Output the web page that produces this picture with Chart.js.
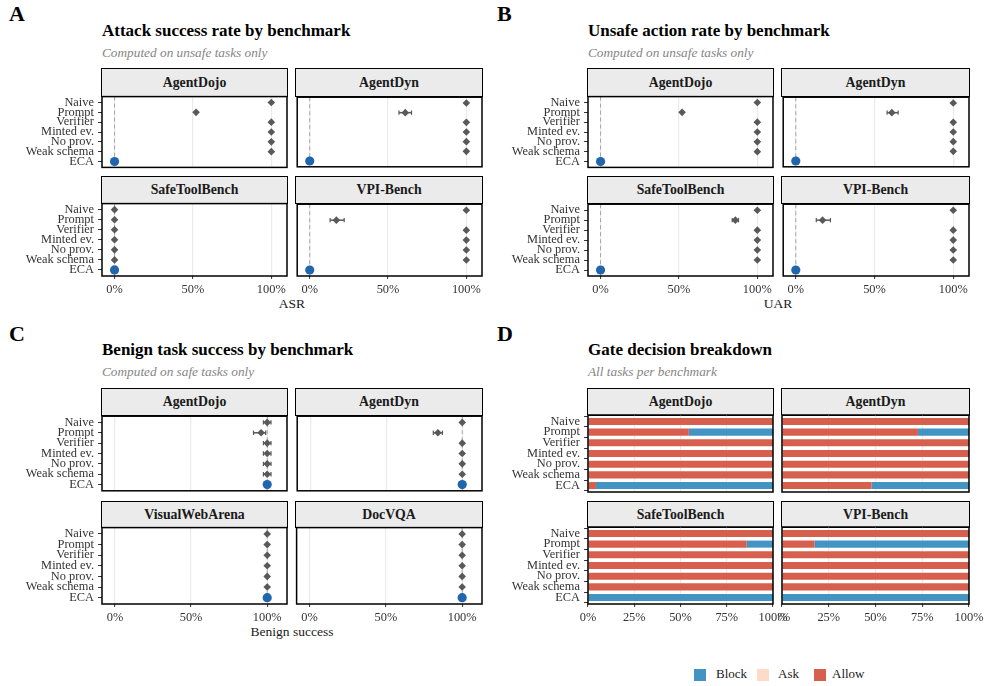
<!DOCTYPE html>
<html>
<head>
<meta charset="utf-8">
<script src="https://cdn.jsdelivr.net/npm/chart.js@4.4.1/dist/chart.umd.min.js"></script>
<style>
  body { margin: 0; background: #fff; font-family: 'Liberation Serif', serif; }
  #page { position: relative; width: 985px; height: 686px; overflow: hidden; }
  .txt { position: absolute; line-height: 1; white-space: nowrap; color: #000; }
  .letter { font-weight: bold; font-size: 22px; }
  .title { font-weight: bold; font-size: 17px; }
  .sub { font-style: italic; font-size: 13.3px; color: #858585; }
  .axt { font-size: 13.5px; color: #1a1a1a; transform: translateX(-50%); }
  .strip { position: absolute; box-sizing: border-box; background: #ebebeb; border: 1.5px solid #000;
           display: flex; align-items: center; justify-content: center;
           font-weight: bold; font-size: 13.8px; color: #1a1a1a; }
  .key { position: absolute; width: 12px; height: 12px; }
  canvas { position: absolute; }
</style>
</head>
<body>
<div id="page">
  <div class="txt letter" style="left:9px;top:3px">A</div>
  <div class="txt title" style="left:102px;top:22px">Attack success rate by benchmark</div>
  <div class="txt sub" style="left:102px;top:46px">Computed on unsafe tasks only</div>
  <div class="txt axt" style="left:292px;top:297px">ASR</div>

  <div class="txt letter" style="left:497px;top:3px">B</div>
  <div class="txt title" style="left:588px;top:22px">Unsafe action rate by benchmark</div>
  <div class="txt sub" style="left:588px;top:46px">Computed on unsafe tasks only</div>
  <div class="txt axt" style="left:778px;top:297px">UAR</div>

  <div class="txt letter" style="left:9px;top:323px">C</div>
  <div class="txt title" style="left:102px;top:341px">Benign task success by benchmark</div>
  <div class="txt sub" style="left:102px;top:365px">Computed on safe tasks only</div>
  <div class="txt axt" style="left:292px;top:625px">Benign success</div>

  <div class="txt letter" style="left:497px;top:323px">D</div>
  <div class="txt title" style="left:588px;top:341px">Gate decision breakdown</div>
  <div class="txt sub" style="left:588px;top:365px">All tasks per benchmark</div>
</div>
<script>
// ---- data ----
const METHODS = ['Naive', 'Prompt', 'Verifier', 'Minted ev.', 'No prov.', 'Weak schema', 'ECA'];
const ATTACK_BENCH = ['AgentDojo', 'AgentDyn', 'SafeToolBench', 'VPI-Bench'];
const BENIGN_BENCH = ['AgentDojo', 'AgentDyn', 'VisualWebArena', 'DocVQA'];

// A: attack success rate (%) per benchmark, in METHODS order
const asrMean = [
  [100, 52, 100, 100, 100, 100, 0],
  [100, 61, 100, 100, 100, 100, 0],
  [0, 0, 0, 0, 0, 0, 0],
  [100, 17, 100, 100, 100, 100, 0]
];
const asrLo = [
  [100, 52, 100, 100, 100, 100, 0],
  [100, 57, 100, 100, 100, 100, 0],
  [0, 0, 0, 0, 0, 0, 0],
  [100, 13, 100, 100, 100, 100, 0]
];
const asrHi = [
  [100, 52, 100, 100, 100, 100, 0],
  [100, 65, 100, 100, 100, 100, 0],
  [0, 0, 0, 0, 0, 0, 0],
  [100, 22, 100, 100, 100, 100, 0]
];

// B: unsafe action rate (%)
const uarMean = [
  [100, 52, 100, 100, 100, 100, 0],
  [100, 61, 100, 100, 100, 100, 0],
  [100, 86, 100, 100, 100, 100, 0],
  [100, 17, 100, 100, 100, 100, 0]
];
const uarLo = [
  [100, 52, 100, 100, 100, 100, 0],
  [100, 58, 100, 100, 100, 100, 0],
  [100, 84, 100, 100, 100, 100, 0],
  [100, 13, 100, 100, 100, 100, 0]
];
const uarHi = [
  [100, 52, 100, 100, 100, 100, 0],
  [100, 65, 100, 100, 100, 100, 0],
  [100, 88, 100, 100, 100, 100, 0],
  [100, 22, 100, 100, 100, 100, 0]
];

// C: benign task success (%)
const benMean = [
  [100, 96, 100, 100, 100, 100, 100],
  [100, 84, 100, 100, 100, 100, 100],
  [100, 100, 100, 100, 100, 100, 100],
  [100, 100, 100, 100, 100, 100, 100]
];
const benLo = [
  [97.5, 91, 97.5, 97.5, 97.5, 97.5, 100],
  [100, 81, 100, 100, 100, 100, 100],
  [100, 100, 100, 100, 100, 100, 100],
  [100, 100, 100, 100, 100, 100, 100]
];
const benHi = [
  [102.5, 99, 102.5, 102.5, 102.5, 102.5, 100],
  [100, 87, 100, 100, 100, 100, 100],
  [100, 100, 100, 100, 100, 100, 100],
  [100, 100, 100, 100, 100, 100, 100]
];

// D: gate decisions (% of all tasks)
const GATE_KEYS = ['Block', 'Ask', 'Allow'];
const GATE_COLORS = ['#4393c3', '#fddbc7', '#d6604d'];
const gateAllow = [
  [100, 54.5, 100, 100, 100, 100, 4.3],
  [100, 72.7, 100, 100, 100, 100, 47.9],
  [100, 85.8, 100, 100, 100, 100, 0],
  [100, 17.4, 100, 100, 100, 100, 0]
];
const gateAsk = [
  [0, 0, 0, 0, 0, 0, 0],
  [0, 0, 0, 0, 0, 0, 0],
  [0, 0, 0, 0, 0, 0, 0],
  [0, 0, 0, 0, 0, 0, 0]
];
const gateBlock = [
  [0, 45.5, 0, 0, 0, 0, 95.7],
  [0, 27.3, 0, 0, 0, 0, 52.1],
  [0, 14.2, 0, 0, 0, 0, 100],
  [0, 82.6, 0, 0, 0, 0, 100]
];

// ---- styling / layout ----
const GREY = '#595959';
const ECA_BLUE = '#2166ac';
Chart.defaults.font.family = "'Liberation Serif', serif";
Chart.defaults.color = '#333';
Chart.defaults.animation = false;

const page = document.getElementById('page');
const COLS_L = [[102, 287], [296, 482]];
const COLS_R = [[588, 773], [782, 969]];
const ROWS_TOP = [[69, 96, 168], [177, 203, 276]];   // strip top, plot top, plot bottom
const ROWS_BOT = [[389, 415, 492], [502, 527, 604]];

// black frame round each panel
const panelBorder = {
  id: 'panelBorder',
  afterDraw(chart) {
    const a = chart.chartArea, c = chart.ctx;
    c.save();
    c.strokeStyle = '#000';
    c.lineWidth = 1.5;
    c.strokeRect(a.left, a.top, a.right - a.left, a.bottom - a.top);
    c.restore();
  }
};

// dashed reference line (0% for A/B, 100% for C)
const refLine = {
  id: 'refLine',
  beforeDatasetsDraw(chart, args, opts) {
    if (opts.value == null) return;
    const a = chart.chartArea, c = chart.ctx;
    const x = chart.scales.x.getPixelForValue(opts.value);
    c.save();
    c.strokeStyle = '#a6a6a6';
    c.lineWidth = 1;
    c.setLineDash([4, 3]);
    c.beginPath();
    c.moveTo(x, a.top);
    c.lineTo(x, a.bottom);
    c.stroke();
    c.restore();
  }
};

function makeCanvas(px, py, pw, ph, L, B) {
  const T = 4, R = 18;
  const cv = document.createElement('canvas');
  cv.width = pw + L + R;
  cv.height = ph + T + B;
  cv.style.width = cv.width + 'px';
  cv.style.height = cv.height + 'px';
  cv.style.left = (px - L) + 'px';
  cv.style.top = (py - T) + 'px';
  page.appendChild(cv);
  return { cv, T, R };
}

function xScale(min, max, ticks, showLabels, B) {
  return {
    type: 'linear', min, max,
    afterBuildTicks: s => { s.ticks = ticks.map(v => ({ value: v })); },
    afterFit: s => { s.height = B; s.paddingLeft = 0; s.paddingRight = 0; },
    ticks: { display: showLabels, callback: v => v + '%', font: { size: 12.4 }, color: '#333',
             padding: 3, maxRotation: 0, autoSkip: false },
    grid: { color: '#ebebeb', lineWidth: 1.2, drawTicks: showLabels, tickLength: 3,
            tickColor: '#333', tickWidth: 1 },
    border: { display: false }
  };
}

function yScale(showLabels, L) {
  return {
    type: 'category', labels: METHODS, offset: true,
    // ggplot-style discrete expansion: 0.6 of a step beyond the first and last rows
    afterBuildTicks: s => { s._startValue = -0.6; s._valueRange = METHODS.length - 1 + 1.2; },
    afterFit: s => { s.width = L; s.paddingTop = 0; s.paddingBottom = 0; },
    ticks: { display: showLabels, font: { size: 12.4 }, color: '#333', padding: 4, autoSkip: false },
    grid: { display: showLabels, drawOnChartArea: false, drawTicks: true, tickLength: 4,
            tickColor: '#333', tickWidth: 1 },
    border: { display: false }
  };
}

function addStrip(text, x0, x1, sTop, pTop) {
  const d = document.createElement('div');
  d.className = 'strip';
  d.textContent = text;
  d.style.left = (x0 - 0.75) + 'px';
  d.style.top = (sTop - 0.75) + 'px';
  d.style.width = (x1 - x0 + 1.5) + 'px';
  d.style.height = (pTop - sTop + 1.5) + 'px';
  page.appendChild(d);
}

function dotFacet(px, py, pw, ph, showY, showX, mean, lo, hi, xmin, xmax, ref) {
  const L = showY ? 100 : 4, B = showX ? 24 : 4;
  const { cv, T, R } = makeCanvas(px, py, pw, ph, L, B);
  const datasets = [];
  // points on top
  datasets.push({
    data: METHODS.slice(0, 6).map((m, i) => ({ x: mean[i], y: m })),
    pointStyle: 'rectRot', pointRadius: 3.8, backgroundColor: GREY, pointBorderWidth: 0,
    clip: false, order: 0
  });
  datasets.push({
    data: [{ x: mean[6], y: METHODS[6] }],
    pointStyle: 'circle', pointRadius: 4.6, backgroundColor: ECA_BLUE, pointBorderWidth: 0,
    clip: false, order: 0
  });
  // error bars
  METHODS.forEach((m, i) => {
    if (hi[i] > lo[i]) {
      datasets.push({
        data: [{ x: lo[i], y: m }, { x: hi[i], y: m }],
        showLine: true, borderColor: GREY, borderWidth: 1.5,
        pointStyle: 'line', pointRotation: 90, pointRadius: 2.2,
        pointBorderColor: GREY, pointBorderWidth: 1.2, clip: false, order: 1
      });
    }
  });
  new Chart(cv, {
    type: 'scatter',
    data: { datasets },
    options: {
      responsive: false,
      layout: { padding: { top: T, right: R, left: 0, bottom: 0 } },
      plugins: { legend: { display: false }, tooltip: { enabled: false }, refLine: { value: ref } },
      scales: {
        x: xScale(xmin, xmax, [0, 50, 100], showX, B),
        y: yScale(showY, L)
      }
    },
    plugins: [refLine, panelBorder]
  });
}

function barFacet(px, py, pw, ph, showY, showX, allow, ask, block) {
  const L = showY ? 100 : 4, B = showX ? 24 : 4;
  const { cv, T, R } = makeCanvas(px, py, pw, ph, L, B);
  const series = { Allow: allow, Ask: ask, Block: block };
  const datasets = ['Allow', 'Ask', 'Block'].map(k => ({
    label: k,
    data: series[k],
    backgroundColor: GATE_COLORS[GATE_KEYS.indexOf(k)],
    borderWidth: 0,
    barPercentage: 0.66,
    categoryPercentage: 1
  }));
  const xs = xScale(0, 100, [0, 25, 50, 75, 100], showX, B);
  xs.stacked = true;
  const ys = yScale(showY, L);
  ys.stacked = true;
  new Chart(cv, {
    type: 'bar',
    data: { labels: METHODS, datasets },
    options: {
      responsive: false,
      indexAxis: 'y',
      layout: { padding: { top: T, right: R, left: 0, bottom: 0 } },
      plugins: { legend: { display: false }, tooltip: { enabled: false } },
      scales: { x: xs, y: ys }
    },
    plugins: [panelBorder]
  });
}

function dotPanel(cols, rows, benches, mean, lo, hi, xmin, xmax, ref) {
  benches.forEach((b, k) => {
    const c = cols[k % 2], r = rows[Math.floor(k / 2)];
    addStrip(b, c[0], c[1], r[0], r[1]);
    dotFacet(c[0], r[1], c[1] - c[0], r[2] - r[1], k % 2 === 0, k >= 2,
             mean[k], lo[k], hi[k], xmin, xmax, ref);
  });
}

dotPanel(COLS_L, ROWS_TOP, ATTACK_BENCH, asrMean, asrLo, asrHi, -8, 110, 0);
dotPanel(COLS_R, ROWS_TOP, ATTACK_BENCH, uarMean, uarLo, uarHi, -8, 110, 0);
dotPanel(COLS_L, ROWS_BOT, BENIGN_BENCH, benMean, benLo, benHi, -8.5, 113, 100);

ATTACK_BENCH.forEach((b, k) => {
  const c = COLS_R[k % 2], r = ROWS_BOT[Math.floor(k / 2)];
  addStrip(b, c[0], c[1], r[0], r[1]);
  barFacet(c[0], r[1], c[1] - c[0], r[2] - r[1], k % 2 === 0, k >= 2,
           gateAllow[k], gateAsk[k], gateBlock[k]);
});

// legend for D
const KEY_X = [694, 757, 814];
const LABEL_X = [716, 778, 832];
GATE_KEYS.forEach((k, i) => {
  const sq = document.createElement('div');
  sq.className = 'key';
  sq.style.left = KEY_X[i] + 'px';
  sq.style.top = '669px';
  sq.style.background = GATE_COLORS[i];
  page.appendChild(sq);
  const t = document.createElement('div');
  t.className = 'txt';
  t.style.left = LABEL_X[i] + 'px';
  t.style.top = '667px';
  t.style.fontSize = '13px';
  t.style.color = '#1a1a1a';
  t.textContent = k;
  page.appendChild(t);
});
</script>
</body>
</html>
